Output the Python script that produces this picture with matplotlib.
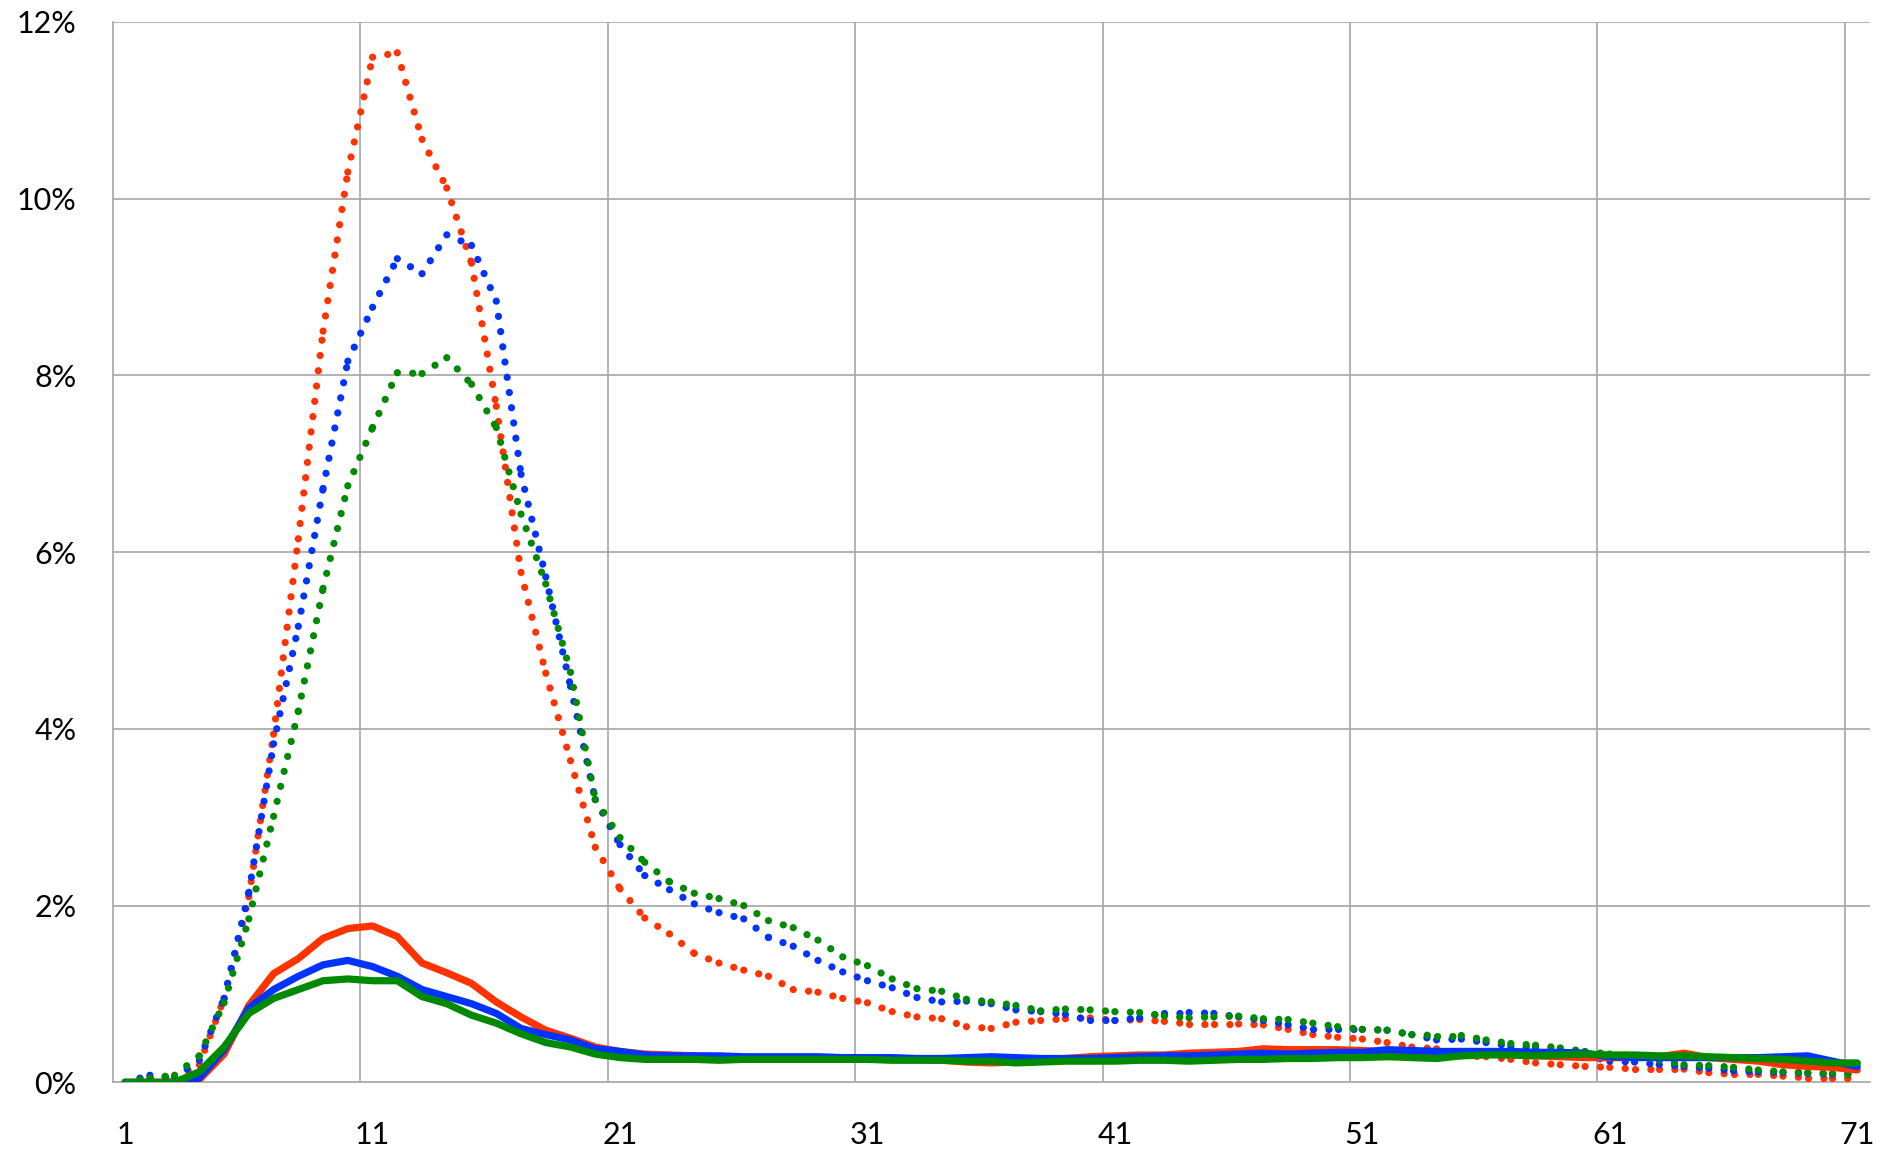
import numpy as np
import matplotlib
matplotlib.use("Agg")
import matplotlib.pyplot as plt
from matplotlib.collections import LineCollection

# categorias 1..71, valores en %
x = np.arange(1, 72)

red_dot = [0.0, 0.05, 0.05, 0.2, 0.95, 2.1, 3.94, 6.15, 8.5, 10.3,
           11.6, 11.65, 10.67, 10.12, 9.27, 7.65, 5.77, 4.63, 3.64, 2.66,
           2.19, 1.86, 1.68, 1.46, 1.35, 1.27, 1.2, 1.05, 1.02, 0.95,
           0.9, 0.8, 0.74, 0.72, 0.63, 0.61, 0.68, 0.7, 0.72, 0.73,
           0.7, 0.71, 0.69, 0.66, 0.66, 0.66, 0.65, 0.6, 0.54, 0.51,
           0.49, 0.45, 0.4, 0.38, 0.3, 0.29, 0.26, 0.22, 0.2, 0.18,
           0.17, 0.15, 0.15, 0.15, 0.11, 0.09, 0.09, 0.07, 0.05, 0.05,
           0.05]
blue_dot = [0.0, 0.08, 0.05, 0.25, 0.95, 2.15, 3.83, 5.16, 6.72, 8.16,
            8.77, 9.32, 9.15, 9.59, 9.47, 8.84, 6.88, 5.72, 4.48, 3.2,
            2.69, 2.34, 2.18, 2.02, 1.92, 1.85, 1.64, 1.54, 1.38, 1.25,
            1.15, 1.07, 0.96, 0.91, 0.92, 0.89, 0.82, 0.8, 0.77, 0.7,
            0.7, 0.73, 0.79, 0.79, 0.78, 0.74, 0.7, 0.65, 0.6, 0.6,
            0.6, 0.59, 0.54, 0.48, 0.49, 0.45, 0.41, 0.39, 0.35, 0.31,
            0.24, 0.23, 0.2, 0.18, 0.16, 0.13, 0.12, 0.11, 0.1, 0.09,
            0.1]
green_dot = [0.0, 0.05, 0.08, 0.3, 0.9, 1.85, 3.01, 4.2, 5.59, 6.75,
             7.41, 8.03, 8.02, 8.2, 7.9, 7.41, 6.43, 5.64, 4.64, 3.2,
             2.77, 2.49, 2.27, 2.14, 2.08, 2.0, 1.83, 1.75, 1.61, 1.42,
             1.32, 1.17, 1.06, 1.03, 0.94, 0.91, 0.87, 0.81, 0.83, 0.82,
             0.8, 0.79, 0.75, 0.73, 0.74, 0.75, 0.72, 0.71, 0.67, 0.63,
             0.6, 0.59, 0.54, 0.53, 0.53, 0.48, 0.44, 0.42, 0.39, 0.35,
             0.32, 0.3, 0.25, 0.2, 0.19, 0.17, 0.14, 0.12, 0.11, 0.1,
             0.08]

red_line = [0.0, 0.0, 0.0, 0.03, 0.32, 0.87, 1.23, 1.4, 1.63, 1.74,
            1.77, 1.65, 1.35, 1.24, 1.12, 0.91, 0.74, 0.59, 0.5, 0.4,
            0.35, 0.32, 0.31, 0.3, 0.29, 0.28, 0.28, 0.27, 0.27, 0.27,
            0.26, 0.26, 0.26, 0.25, 0.23, 0.22, 0.23, 0.25, 0.27, 0.29,
            0.3, 0.31, 0.31, 0.33, 0.34, 0.35, 0.38, 0.37, 0.37, 0.37,
            0.36, 0.35, 0.35, 0.34, 0.33, 0.32, 0.31, 0.3, 0.29, 0.28,
            0.28, 0.28, 0.29, 0.33, 0.28, 0.26, 0.24, 0.2, 0.18, 0.17,
            0.14]
blue_line = [0.0, 0.0, 0.0, 0.05, 0.37, 0.84, 1.05, 1.2, 1.33, 1.38,
             1.31, 1.2, 1.05, 0.97, 0.89, 0.78, 0.61, 0.54, 0.48, 0.38,
             0.35, 0.31, 0.3, 0.3, 0.3, 0.29, 0.29, 0.29, 0.29, 0.28,
             0.28, 0.28, 0.27, 0.27, 0.28, 0.29, 0.28, 0.27, 0.27, 0.27,
             0.28, 0.29, 0.3, 0.3, 0.31, 0.32, 0.33, 0.32, 0.33, 0.34,
             0.34, 0.37, 0.36, 0.35, 0.35, 0.35, 0.35, 0.34, 0.34, 0.33,
             0.29, 0.28, 0.28, 0.28, 0.28, 0.28, 0.28, 0.29, 0.3, 0.24,
             0.18]
green_line = [0.0, 0.0, 0.0, 0.12, 0.4, 0.78, 0.95, 1.05, 1.15, 1.17,
              1.15, 1.15, 0.97, 0.89, 0.76, 0.67, 0.55, 0.45, 0.4, 0.32,
              0.28, 0.26, 0.26, 0.26, 0.25, 0.26, 0.26, 0.26, 0.26, 0.26,
              0.26, 0.25, 0.25, 0.25, 0.24, 0.24, 0.22, 0.23, 0.24, 0.24,
              0.24, 0.25, 0.25, 0.24, 0.25, 0.26, 0.26, 0.27, 0.27, 0.28,
              0.28, 0.29, 0.28, 0.27, 0.3, 0.31, 0.31, 0.3, 0.31, 0.32,
              0.31, 0.31, 0.3, 0.3, 0.29, 0.28, 0.27, 0.26, 0.24, 0.22,
              0.22]

x_ticks = [1, 11, 21, 31, 41, 51, 61, 71]
y_ticks = [0, 2, 4, 6, 8, 10, 12]

RED = "#ff3300"
BLUE = "#0033ff"
GREEN = "#008a00"
GRID = "#a6a6a6"

plt.rcParams["font.family"] = ["Lato", "DejaVu Sans"]

fig = plt.figure(figsize=(18.79, 11.49), dpi=100)
ax = fig.add_axes([0.06, 0.058, 0.935, 0.923])


def dotted(ax, xs, ys, color):
    # el patron de puntos se reinicia en cada segmento, como en Excel
    pts = np.column_stack([xs, ys])
    segs = np.stack([pts[:-1], pts[1:]], axis=1)
    lc = LineCollection(segs, colors=color, linewidths=5.2,
                        linestyles=[(0, (0.01, 2.12))], capstyle="round", zorder=3)
    ax.add_collection(lc)


dotted(ax, x, red_dot, RED)
dotted(ax, x, blue_dot, BLUE)
dotted(ax, x, green_dot, GREEN)

for ys, c in [(red_line, RED), (blue_line, BLUE), (green_line, GREEN)]:
    ax.plot(x, ys, color=c, lw=5.2, solid_joinstyle="round",
            solid_capstyle="round", zorder=4)

ax.set_xlim(0.5, 71.5)
ax.set_ylim(0, 12)

# rejilla vertical entre categorias
for gx in np.arange(10.5, 71, 10):
    ax.axvline(gx, color=GRID, lw=1.2, zorder=1)
for gy in y_ticks[1:]:
    ax.axhline(gy, color=GRID, lw=1.2, zorder=1)

for s in ["top", "right"]:
    ax.spines[s].set_visible(False)
for s in ["left", "bottom"]:
    ax.spines[s].set_color(GRID)
    ax.spines[s].set_linewidth(1.2)

ax.set_xticks(x_ticks)
ax.set_xticklabels([str(v) for v in x_ticks])
ax.set_yticks(y_ticks)
ax.set_yticklabels([f"{v}%" for v in y_ticks])
ax.tick_params(axis="both", length=0, labelsize=22)
ax.tick_params(axis="y", pad=26)
ax.tick_params(axis="x", pad=28)

fig.savefig("out.png", dpi=100)
